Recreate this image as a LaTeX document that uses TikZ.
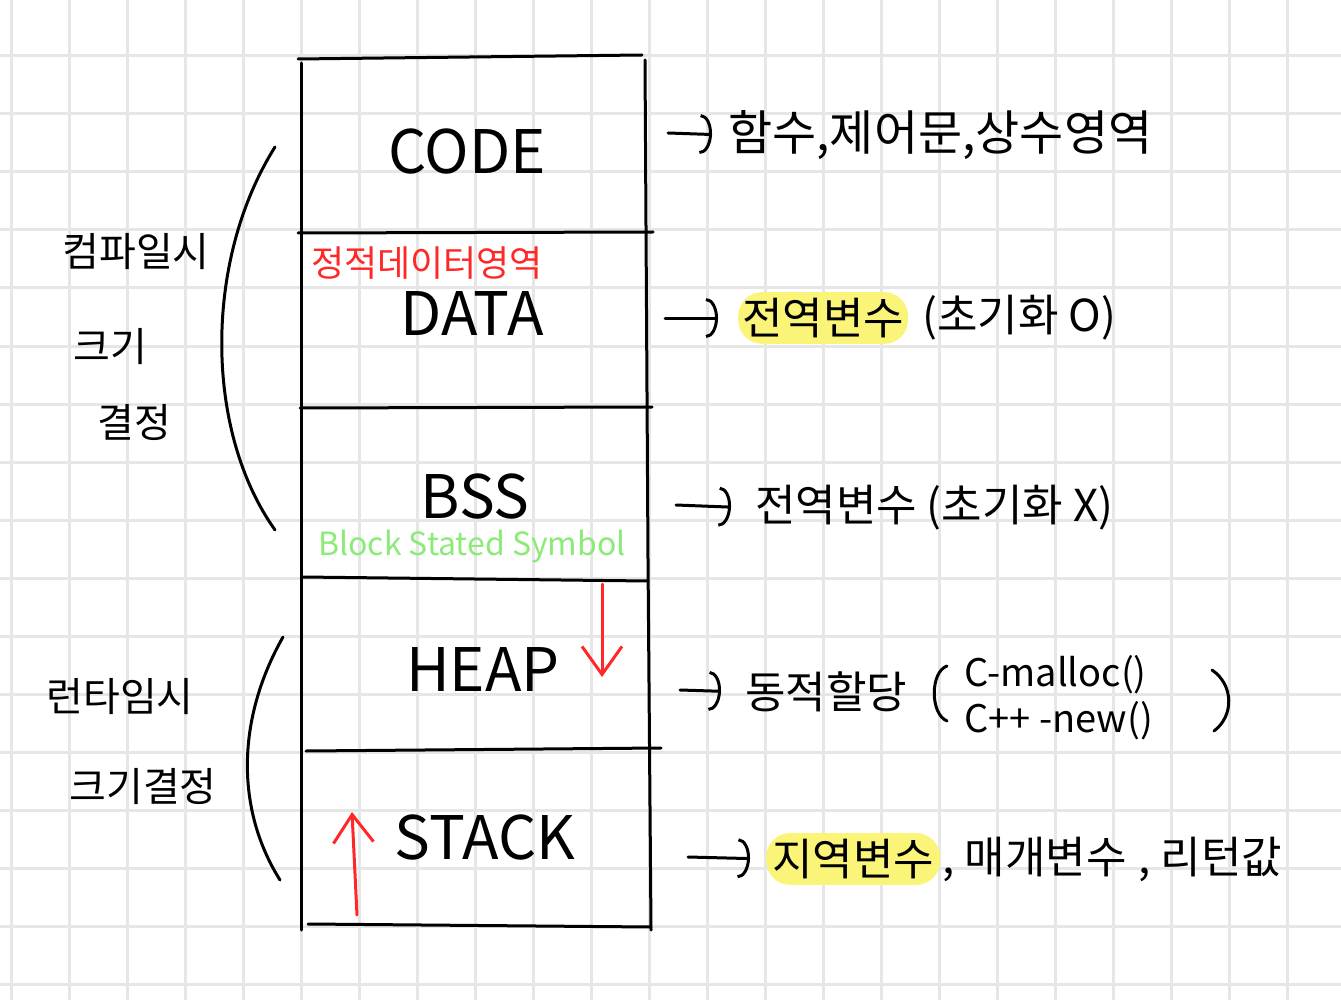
\documentclass[tikz,border=0pt]{standalone}
\usepackage{fontspec}
\newfontfamily\kr{Noto Sans CJK KR}
\usetikzlibrary{arrows.meta,positioning}
\definecolor{gridgray}{RGB}{230,230,230}
\definecolor{penred}{RGB}{255,40,40}
\definecolor{pengreen}{RGB}{140,235,120}
\definecolor{hlyellow}{RGB}{250,245,120}
\tikzset{
  pen/.style={line width=3pt, line cap=round, line join=round},
  handarrow/.style={pen, -{Arc Barb[length=12pt,width=40pt]}},
  redarrow/.style={pen, penred, -{Straight Barb[length=28pt,width=40pt]}},
  seg/.style={font=\kr\fontsize{60}{60}\selectfont},
  note/.style={font=\kr\fontsize{44}{50}\selectfont, inner sep=2pt},
  side/.style={font=\kr\fontsize{40}{46}\selectfont},
}
\begin{document}
\begin{tikzpicture}[x=1pt, y=-1pt]
    \useasboundingbox (0,0) rectangle (1341,1000);
    % grid paper
    \foreach \gx in {11,69,...,1341}
        \draw[gridgray, line width=3pt] (\gx,0) -- (\gx,1000);
    \foreach \gy in {56,114,...,1000}
        \draw[gridgray, line width=3pt] (0,\gy) -- (1341,\gy);
    % memory box
    \draw[pen] (298,59) -- (642,55);
    \draw[pen] (301,63) -- (301,930);
    \draw[pen] (645,60) -- (648,560) -- (651,930);
    \draw[pen] (298,233) -- (653,232);
    \draw[pen] (300,408) -- (652,407);
    \draw[pen] (302,577) -- (648,581);
    \draw[pen] (306,751) -- (661,748);
    \draw[pen] (308,924) -- (651,927);
    % segments
    \node[seg] (code)  at (467,152) {CODE};
    \node[seg] (data)  at (472,314) {DATA};
    \node[seg] (bss)   at (475,497) {BSS};
    \node[seg] (heap)  at (483,670) {HEAP};
    \node[seg] (stack) at (485,838) {STACK};
    \node[font=\kr\fontsize{36}{36}\selectfont, text=penred] (static) at (427,263) {정적데이터영역};
    \node[font=\kr\fontsize{32}{32}\selectfont, text=pengreen] (bssname) at (472,547) {Block Stated Symbol};
    % growth directions
    \coordinate (heaptop) at (602,584);
    \coordinate (heapend) at (602,677);
    \draw[redarrow] (heaptop) -- (heapend);
    \coordinate (stackbot) at (357,915);
    \coordinate (stacktop) at (352,812);
    \draw[redarrow] (stackbot) -- (stacktop);
    % notes on the right
    \node[note, font=\kr\fontsize{48}{52}\selectfont, anchor=west] (codenote) at (726,135) {함수,제어문,상수영역};
    \coordinate (codeout) at (668,133);
    \draw[handarrow, shorten >=14pt] (codeout) -- (codenote.west);

    \node[note, fill=hlyellow, rounded corners=24pt, inner xsep=4pt, inner ysep=6pt, anchor=west] (datavar) at (738,318) {전역변수};
    \node[note, right=12pt of datavar] (datainit) {(초기화 O)};
    \coordinate (dataout) at (665,318);
    \draw[handarrow, shorten >=20pt] (dataout) -- (datavar.west);

    \node[note, anchor=west] (bssnote) at (753,508) {전역변수 (초기화 X)};
    \coordinate (bssout) at (676,505);
    \draw[handarrow, shorten >=22pt] (bssout) -- (bssnote.west);

    \node[note, anchor=west] (heapvar) at (743,692) {동적할당};
    \node[note, font=\kr\fontsize{38}{46}\selectfont, anchor=west] (heaplang) at (962,700)
        {\begin{tabular}{@{}l@{}}C-malloc()\\C++ -new()\end{tabular}};
    \draw[pen] (947,666) .. controls (930,672) and (930,714) .. (947,721);
    \draw[pen] (1212,670) .. controls (1234,685) and (1234,716) .. (1214,731);
    \coordinate (heapout) at (680,690);
    \draw[handarrow, shorten >=22pt] (heapout) -- (heapvar.west);

    \node[note, fill=hlyellow, rounded corners=24pt, inner xsep=6pt, inner ysep=6pt, anchor=west] (stackvar) at (766,859) {지역변수};
    \node[note, right=0pt of stackvar] (stackrest) {, 매개변수\hspace{12pt}, 리턴값};
    \coordinate (stackout) at (688,857);
    \draw[handarrow, shorten >=16pt] (stackout) -- (stackvar.west);
    % left side
    \node[side] (compile) at (136,252) {컴파일시};
    \node[side] (size1)   at (110,347) {크기};
    \node[side] (fix1)    at (134,422) {결정};
    \draw[pen] (275,147) .. controls (204,260) and (204,430) .. (275,530);
    \node[side] (runtime) at (120,697) {런타임시};
    \node[side] (fix2)    at (143,787) {크기결정};
    \draw[pen] (283,637) .. controls (236,720) and (236,810) .. (280,880);
\end{tikzpicture}
\end{document}
